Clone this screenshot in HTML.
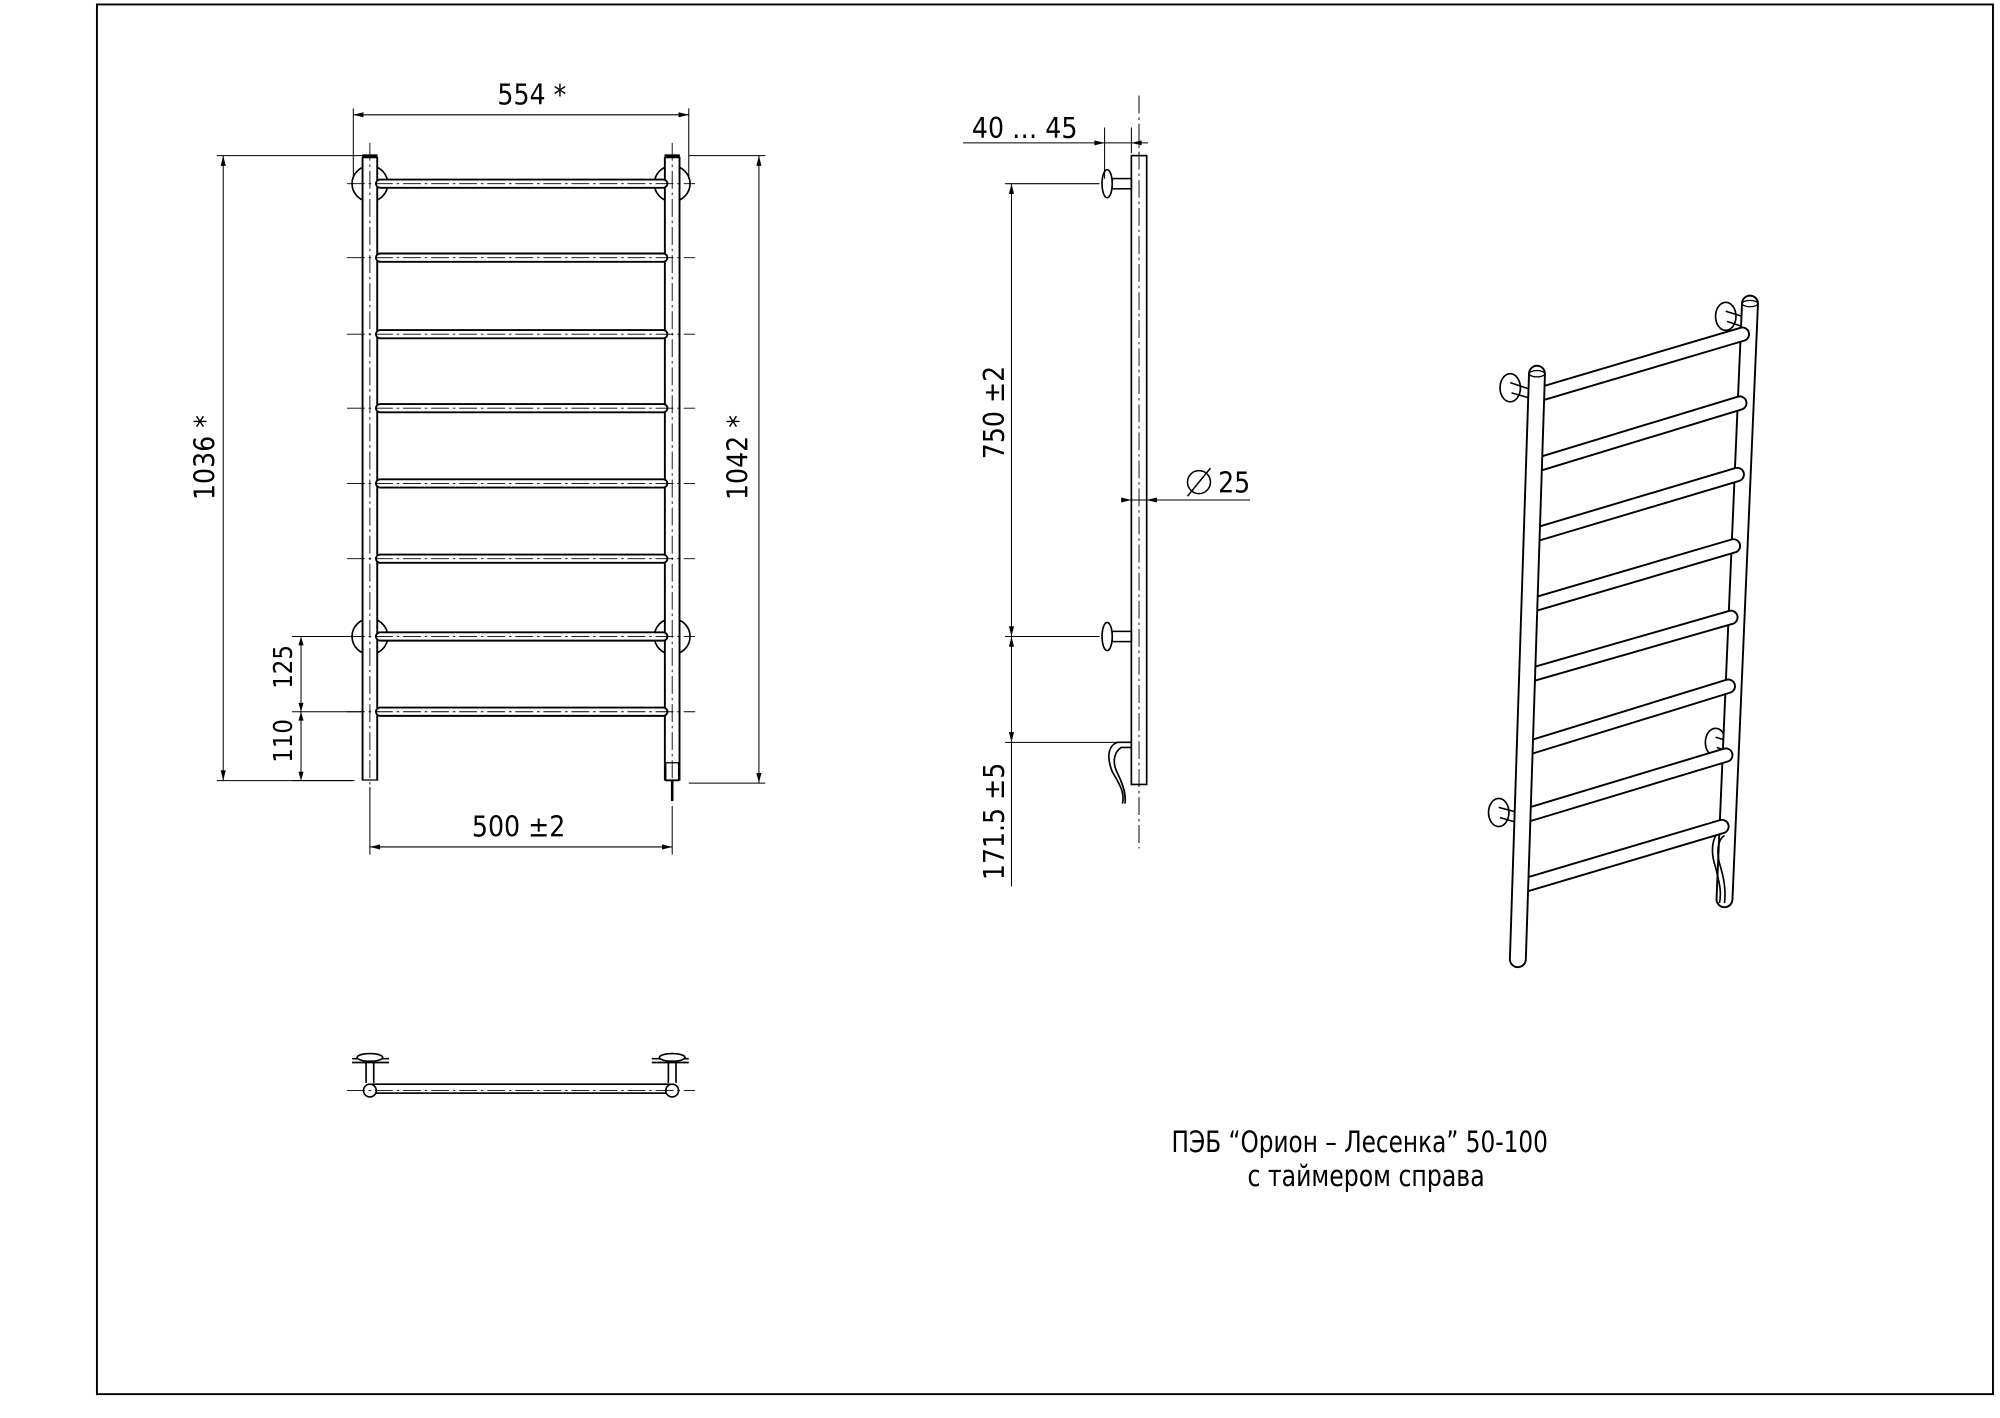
<!DOCTYPE html>
<html><head><meta charset="utf-8"><style>
html,body{margin:0;padding:0;background:#fff}
svg{display:block}
text{font-family:"DejaVu Sans Condensed","Liberation Sans Narrow","Liberation Sans",sans-serif;fill:#000}
</style></head><body>
<svg width="2000" height="1418" viewBox="0 0 1568 1111.7" xmlns="http://www.w3.org/2000/svg">
<rect x="0" y="0" width="1568" height="1112" fill="#fff"/>
<rect x="76" y="3.5" width="1486.5" height="1089.5" fill="none" stroke="#000" stroke-width="1.5"/>

<!-- FRONT VIEW -->
<g stroke="#000" fill="none">
 <!-- wall mounts -->
 <circle cx="290" cy="144" r="14" stroke-width="1.3"/>
 <circle cx="527" cy="144" r="14" stroke-width="1.3"/>
 <circle cx="290" cy="499" r="14" stroke-width="1.3"/>
 <circle cx="527" cy="499" r="14" stroke-width="1.3"/>
 <!-- posts -->
 <line x1="290" y1="123" x2="290" y2="612" stroke-width="13"/>
 <line x1="290" y1="124" x2="290" y2="611" stroke="#fff" stroke-width="10"/>
 <line x1="527" y1="123" x2="527" y2="612" stroke-width="13"/>
 <line x1="527" y1="124" x2="527" y2="611" stroke="#fff" stroke-width="10"/>
 <!-- bars -->
 <g stroke-linecap="round">
  <path d="M298 144H520M298 202H520M298 262H520M298 320H520M298 379H520M298 438H520M298 499H520M298 558H520" stroke-width="8"/>
  <path d="M298 144H520M298 202H520M298 262H520M298 320H520M298 379H520M298 438H520M298 499H520M298 558H520" stroke="#fff" stroke-width="5"/>
 </g>
 <rect x="284" y="121" width="12" height="3" fill="#000" stroke="none"/>
 <rect x="521" y="121" width="12" height="3" fill="#000" stroke="none"/>
 <!-- timer bottom -->
 <rect x="522" y="598" width="10" height="14" stroke-width="1"/>
 <line x1="527" y1="612" x2="527" y2="628" stroke-width="2"/>
 <!-- centerlines -->
 <g stroke-width="0.7" stroke-dasharray="14 3 2 3">
  <path d="M290 112V620M527 112V620"/>
  <path d="M272 144H545M272 202H545M272 262H545M272 320H545M272 379H545M272 438H545M272 499H545M272 558H545"/>
 </g>
 <!-- dims -->
 <g stroke-width="0.8">
  <path d="M277 85V140M540 85V140M277 90H540"/>
  <path d="M170 122H290M170 612H278M175 122V612"/>
  <path d="M540 122H600M540 614H600M595 122V614"/>
  <path d="M229 499H285M229 558H285M236 499V612"/>
  <path d="M229 612H276"/>
  <path d="M290 617V670M527 632V670M290 664H527"/>
 </g>
</g>
<g fill="#000">
 <path d="M277 90l8 -2v4zM540 90l-8 -2v4z"/>
 <path d="M175 122l-2 8h4zM175 612l-2 -8h4z"/>
 <path d="M595 122l-2 8h4zM595 614l-2 -8h4z"/>
 <path d="M236 499l-2 7h4zM236 558l-2 -7h4zM236 558l-2 7h4zM236 612l-2 -7h4z"/>
 <path d="M290 664l8 -2v4zM527 664l-8 -2v4z"/>
</g>
<text x="390" y="82" font-size="22">554  *</text>
<text x="370" y="656" font-size="22">500   ±2</text>
<text transform="translate(168,392) rotate(-90)" font-size="22">1036  *</text>
<text transform="translate(586,392) rotate(-90)" font-size="22">1042  *</text>
<text transform="translate(229,540) rotate(-90)" font-size="20">125</text>
<text transform="translate(229,598) rotate(-90)" font-size="20">110</text>

<!-- SIDE VIEW -->
<g stroke="#000" fill="none">
 <line x1="893" y1="75" x2="893" y2="665" stroke-width="0.7" stroke-dasharray="14 3 2 3"/>
 <rect x="887" y="122" width="12" height="493" stroke-width="1.3" fill="#fff"/>
 <line x1="893" y1="75" x2="893" y2="665" stroke-width="0.7" stroke-dasharray="14 3 2 3"/>
 <ellipse cx="868" cy="144" rx="4" ry="11" stroke-width="1.3" fill="#fff"/>
 <rect x="872" y="140" width="15" height="8" stroke-width="1.2"/>
 <ellipse cx="868" cy="499" rx="4" ry="11" stroke-width="1.3" fill="#fff"/>
 <rect x="872" y="495" width="15" height="8" stroke-width="1.2"/>
 <path d="M887 582H876C868 585 868 595 872 605C878 615 882 622 880 630" stroke-width="1.3"/>
 <path d="M887 586H879C873 590 872 598 876 606C880 614 883 622 882 630" stroke-width="1.3"/>
 <g stroke-width="0.8">
  <path d="M755 112H900M866 100V140M887 100V120"/>
  <path d="M788 144H862M788 499H862M793 144V695M788 582H880"/>
  <path d="M884 392H980"/>
 </g>
</g>
<g fill="#000">
 <path d="M866 112l-8 -2v4zM887 112l8 -2v4z"/>
 <path d="M793 144l-2 8h4zM793 499l-2 -8h4zM793 499l-2 8h4zM793 582l-2 -8h4z"/>
 <path d="M887 392l-8 -2v4zM899 392l8 -2v4z"/>
</g>
<text x="762" y="108" font-size="22">40 … 45</text>
<text transform="translate(787,360) rotate(-90)" font-size="22">750   ±2</text>
<text transform="translate(787,690) rotate(-90)" font-size="22">171.5   ±5</text>
<circle cx="940" cy="378" r="9" fill="none" stroke="#000" stroke-width="1.2"/>
<line x1="931" y1="389" x2="949" y2="367" stroke="#000" stroke-width="1.2"/>
<text x="955" y="386" font-size="22">25</text>

<!-- TOP VIEW -->
<g stroke="#000" fill="none" stroke-width="1.3">
 <rect x="292" y="850" width="233" height="7" fill="#fff"/>
 <path d="M276 830H305M276 833H305M511 830H540M511 833H540"/>
 <path d="M287 833V849M293 833V849M524 833V849M530 833V849"/>
 <ellipse cx="290" cy="829" rx="10" ry="3" fill="#fff"/>
 <ellipse cx="527" cy="829" rx="10" ry="3" fill="#fff"/>
 <circle cx="290" cy="855" r="5" fill="#fff"/>
 <circle cx="527" cy="855" r="5" fill="#fff"/>
 <path d="M272 855H545" stroke-width="0.6" stroke-dasharray="14 3 2 3"/>
</g>

<!-- ISOMETRIC -->
<g stroke="#000" fill="none">
 <!-- right mounts -->
 <ellipse cx="1353" cy="248" rx="8" ry="11" stroke-width="1.3" fill="#fff"/>
 <path d="M1353 244L1366 248M1354 252L1366 256" stroke-width="1.2"/>
 <ellipse cx="1345" cy="582" rx="8" ry="11" stroke-width="1.3" fill="#fff"/>
 <path d="M1345 578L1359 582M1346 586L1359 590" stroke-width="1.2"/>
 <!-- right post -->
 <line x1="1372" y1="238" x2="1352" y2="705" stroke-width="14" stroke-linecap="round"/>
 <line x1="1372" y1="238" x2="1352" y2="705" stroke="#fff" stroke-width="11" stroke-linecap="round"/>
 <ellipse cx="1372" cy="238" rx="6" ry="2.5" stroke-width="1"/>
 <!-- cable -->
 <path d="M1352 650C1343 652 1340 665 1345 680C1348 692 1350 700 1348 708" stroke-width="1.3"/>
 <path d="M1352 655C1347 658 1345 668 1349 680C1352 690 1353 700 1352 708" stroke-width="1.3"/>
 <!-- bars -->
 <g stroke-linecap="round">
  <path d="M1204 310L1366 262M1203 365L1364 316M1201 420L1362 372M1199 475L1359 428M1197 530L1357 484M1196 587L1355 538M1194 640L1353 592M1192 695L1350 648" stroke-width="12"/>
  <path d="M1204 310L1366 262M1203 365L1364 316M1201 420L1362 372M1199 475L1359 428M1197 530L1357 484M1196 587L1355 538M1194 640L1353 592M1192 695L1350 648" stroke="#fff" stroke-width="9"/>
 </g>
 <!-- left mounts -->
 <ellipse cx="1184" cy="304" rx="8" ry="11" stroke-width="1.3" fill="#fff"/>
 <path d="M1184 300L1199 305M1185 308L1199 312" stroke-width="1.2"/>
 <ellipse cx="1175" cy="637" rx="8" ry="11" stroke-width="1.3" fill="#fff"/>
 <path d="M1175 633L1190 637M1176 641L1190 645" stroke-width="1.2"/>
 <!-- left post -->
 <line x1="1205" y1="293" x2="1190" y2="752" stroke-width="14" stroke-linecap="round"/>
 <line x1="1205" y1="293" x2="1190" y2="752" stroke="#fff" stroke-width="11" stroke-linecap="round"/>
 <ellipse cx="1205" cy="293" rx="6" ry="2.5" stroke-width="1"/>
</g>

<text x="1066" y="903" font-size="23" text-anchor="middle" font-family="'DejaVu Sans Condensed','Liberation Sans Narrow','Liberation Sans','Noto Sans CJK JP',sans-serif" textLength="295" lengthAdjust="spacingAndGlyphs">ПЭБ “Орион – Лесенка” 50-100</text>
<text x="1071" y="930" font-size="23" text-anchor="middle" font-family="'DejaVu Sans Condensed','Liberation Sans Narrow','Liberation Sans','Noto Sans CJK JP',sans-serif" textLength="186" lengthAdjust="spacingAndGlyphs">с таймером справа</text>
</svg>
</body></html>
